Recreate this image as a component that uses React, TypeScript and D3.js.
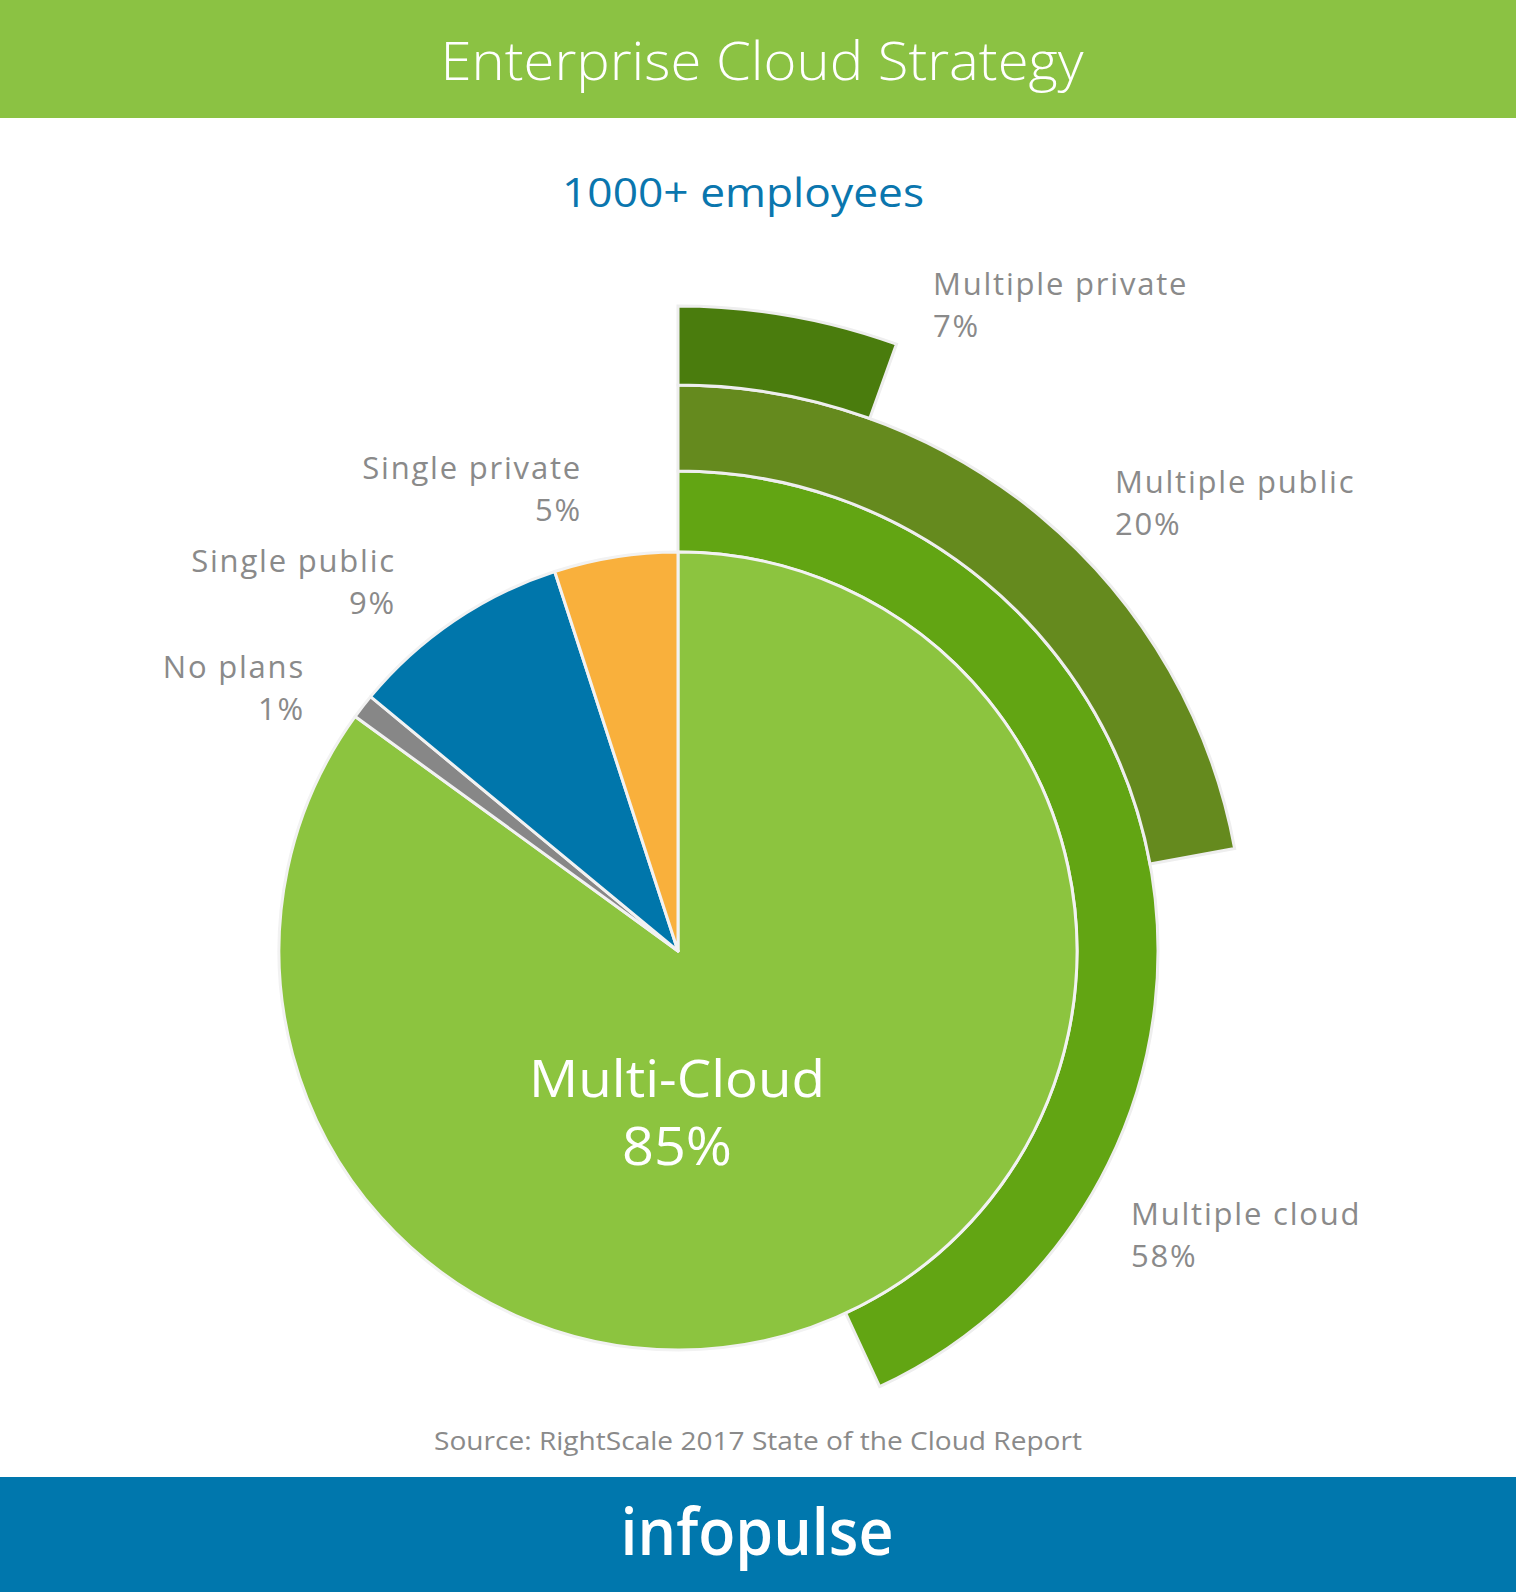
import React from "react";
import * as d3 from "d3";

// ---- Data ----
const title = "Enterprise Cloud Strategy";
const subtitle = "1000+ employees";
const source = "Source: RightScale 2017 State of the Cloud Report";
const brand = "infopulse";

const pieCategories = ["Multi-Cloud", "No plans", "Single public", "Single private"];
const pieValues = [85, 1, 9, 5];

const ringCategories = ["Multiple cloud", "Multiple public", "Multiple private"];
const ringValues = [58, 20, 7];
// sweep of each outer arc as % of a full circle, as drawn in the picture
const ringArcShare = [43.1, 22.1, 5.5];

// ---- Styles ----
const pieColors = ["#8cc43f", "#878787", "#0076ab", "#f9b03c"];
const ringColors = ["#62a513", "#658a1e", "#4a7c0d"];
const W = 1516;
const H = 1592;
const cx = 678;
const cy = 951;
const pieR = 399;
const ringR = [399, 480, 566, 645];
const FONT = "'Open Sans', 'Noto Sans', sans-serif";
const labelGray = "#8a8a8a";

export default function App() {
  const pieGen = d3.pie<number>().sort(null).startAngle(0).endAngle(2 * Math.PI);
  const pieArcs = pieGen(pieValues);
  const arcGen = d3.arc<any>();
  const angle = d3.scaleLinear().domain([0, 100]).range([0, 2 * Math.PI]);

  const ringLabelPos = [
    { x: 1131, y: 1225 },
    { x: 1115, y: 493 },
    { x: 933, y: 295 },
  ];
  const leftLabelPos: Record<string, { x: number; y: number }> = {
    "Single private": { x: 582, y: 479 },
    "Single public": { x: 396, y: 572 },
    "No plans": { x: 305, y: 678 },
  };

  return (
    <div>
      <style>{"body{margin:0;}"}</style>
      <svg width={W} height={H} viewBox={`0 0 ${W} ${H}`} style={{ display: "block" }}>
        <rect x={0} y={0} width={W} height={H} fill="#ffffff" />
        {/* header */}
        <rect x={0} y={0} width={W} height={118} fill="#8bc243" />
        <text x={762} y={80} textAnchor="middle" fill="#ffffff" fontFamily={FONT} fontWeight={300} fontSize={53}
          textLength={643} lengthAdjust="spacingAndGlyphs">
          {title}
        </text>
        <text x={743} y={207} textAnchor="middle" fill="#0a76ae" fontFamily={FONT} fontSize={41}
          textLength={362} lengthAdjust="spacingAndGlyphs">
          {subtitle}
        </text>

        <g transform={`translate(${cx},${cy})`}>
          {/* outer rings */}
          {ringValues.map((v, i) => (
            <path
              key={ringCategories[i]}
              d={arcGen({
                innerRadius: ringR[i],
                outerRadius: ringR[i + 1],
                startAngle: 0,
                endAngle: angle(ringArcShare[i]),
              }) as string}
              fill={ringColors[i]}
              stroke="#eeeeee"
              strokeWidth={3}
              strokeLinejoin="miter"
            />
          ))}
          {/* main pie */}
          {pieArcs.map((a, i) => (
            <path
              key={pieCategories[i]}
              d={arcGen({ innerRadius: 0, outerRadius: pieR, startAngle: a.startAngle, endAngle: a.endAngle }) as string}
              fill={pieColors[i]}
              stroke="#f2f2f2"
              strokeWidth={3}
              strokeLinejoin="round"
            />
          ))}
        </g>

        {/* center label */}
        <text x={677} y={1097} textAnchor="middle" fill="#ffffff" fontFamily={FONT} fontSize={52}
          textLength={296} lengthAdjust="spacingAndGlyphs">
          {pieCategories[0]}
        </text>
        <text x={677} y={1165} textAnchor="middle" fill="#ffffff" fontFamily={FONT} fontSize={53}
          textLength={110} lengthAdjust="spacingAndGlyphs">
          {`${pieValues[0]}%`}
        </text>

        {/* right labels for rings */}
        {ringCategories.map((c, i) => {
          const p = ringLabelPos[i];
          return (
            <g key={c}>
              <text x={p.x} y={p.y} fill={labelGray} fontFamily={FONT} fontSize={31} letterSpacing={1.8}>
                {c}
              </text>
              <text x={p.x} y={p.y + 42} fill={labelGray} fontFamily={FONT} fontSize={31} letterSpacing={1.8}>
                {`${ringValues[i]}%`}
              </text>
            </g>
          );
        })}

        {/* left labels for small slices */}
        {pieCategories.slice(1).map((c, j) => {
          const p = leftLabelPos[c];
          return (
            <g key={c}>
              <text x={p.x} y={p.y} textAnchor="end" fill={labelGray} fontFamily={FONT} fontSize={31} letterSpacing={1.8}>
                {c}
              </text>
              <text x={p.x} y={p.y + 42} textAnchor="end" fill={labelGray} fontFamily={FONT} fontSize={31} letterSpacing={1.8}>
                {`${pieValues[j + 1]}%`}
              </text>
            </g>
          );
        })}

        {/* source */}
        <text x={758} y={1450} textAnchor="middle" fill={labelGray} fontFamily={FONT} fontSize={26}
          textLength={648} lengthAdjust="spacingAndGlyphs">
          {source}
        </text>

        {/* footer */}
        <rect x={0} y={1477} width={W} height={H - 1477} fill="#0077ad" />
        <text
          x={757}
          y={1555}
          textAnchor="middle"
          fill="#ffffff"
          fontFamily={FONT}
          fontWeight={600}
          fontSize={66}
          textLength={273}
          lengthAdjust="spacingAndGlyphs"
        >
          {brand}
        </text>
      </svg>
    </div>
  );
}
